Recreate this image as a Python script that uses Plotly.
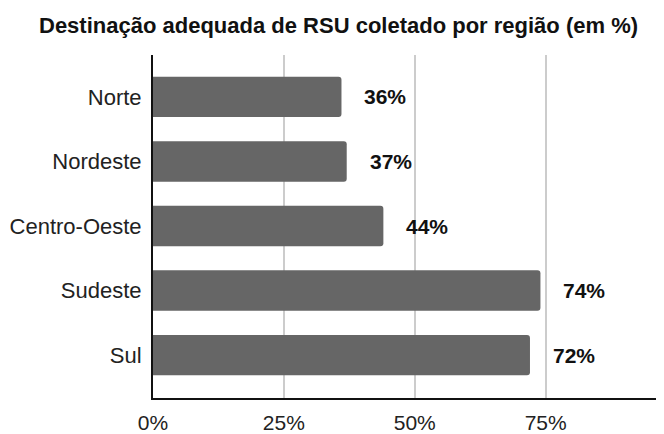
import plotly.graph_objects as go

regioes = ["Norte", "Nordeste", "Centro-Oeste", "Sudeste", "Sul"]
valores = [36, 37, 44, 74, 72]
tick_vals = [0, 25, 50, 75]
tick_text = ["0%", "25%", "50%", "75%"]
titulo = "Destinação adequada de RSU coletado por região (em %)"

FONT = "Liberation Sans, Arial, sans-serif"

# page body has an 8px default margin, so the figure is sized/offset to compensate
fig = go.Figure()
fig.add_trace(go.Bar(
    x=valores, y=regioes, orientation="h",
    marker=dict(color="#666666", cornerradius=3, line=dict(width=0)),
    width=0.626, hoverinfo="skip",
))

for r, v in zip(regioes, valores):
    fig.add_annotation(x=v, y=r, xref="x", yref="y", text=f"<b>{v}%</b>",
                       showarrow=False, xanchor="left", yanchor="middle",
                       xshift=21, font=dict(family=FONT, size=21, color="#111111"))

fig.add_annotation(text=f"<b>{titulo}</b>", xref="paper", yref="paper",
                   x=(338 - 153) / 511, y=1, yshift=15, xanchor="center", yanchor="bottom",
                   showarrow=False, font=dict(family=FONT, size=22, color="#111111"))

fig.update_layout(
    width=656, height=426,
    margin=dict(l=145, r=0, t=47, b=23),
    paper_bgcolor="white", plot_bgcolor="white",
    showlegend=False,
    font=dict(family=FONT, size=22, color="#222222"),
    xaxis=dict(range=[0, 97.6], tickvals=tick_vals, ticktext=tick_text,
               showgrid=True, gridcolor="#cccccc", gridwidth=1.5,
               showline=True, linecolor="#111111", linewidth=2,
               zeroline=False, ticks="", ticklabelstandoff=5,
               tickfont=dict(family=FONT, size=21, color="#222222")),
    yaxis=dict(range=[4.664, -0.649], showgrid=False,
               showline=True, linecolor="#111111", linewidth=2,
               zeroline=False, ticks="", ticklabelstandoff=5,
               tickfont=dict(family=FONT, size=22, color="#222222")),
)

fig.write_html("out.html")
